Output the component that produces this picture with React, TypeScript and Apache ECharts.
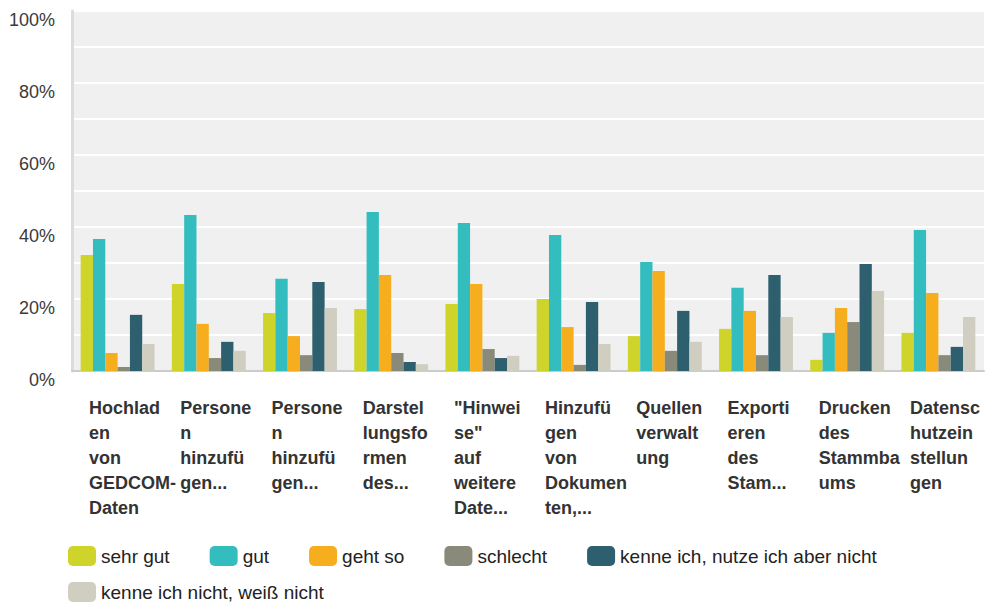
import React, { useEffect, useRef } from "react";
import * as echarts from "echarts";

const categories = [
  "Hochlad\nen\nvon\nGEDCOM-\nDaten",
  "Persone\nn\nhinzufü\ngen...",
  "Persone\nn\nhinzufü\ngen...",
  "Darstel\nlungsfo\nrmen\ndes...",
  "\"Hinwei\nse\"\nauf\nweitere\nDate...",
  "Hinzufü\ngen\nvon\nDokumen\nten,...",
  "Quellen\nverwalt\nung",
  "Exporti\neren\ndes\nStam...",
  "Drucken\ndes\nStammba\nums",
  "Datensc\nhutzein\nstellun\ngen",
];

const seriesNames = [
  "sehr gut",
  "gut",
  "geht so",
  "schlecht",
  "kenne ich, nutze ich aber nicht",
  "kenne ich nicht, weiß nicht",
];

const sehrGut = [32.2, 24.2, 16.1, 17.2, 18.6, 20.0, 9.7, 11.7, 3.1, 10.6];
const gut = [36.7, 43.3, 25.6, 44.2, 41.1, 37.8, 30.3, 23.1, 10.6, 39.2];
const gehtSo = [5.0, 13.1, 9.7, 26.7, 24.2, 12.2, 27.8, 16.7, 17.5, 21.7];
const schlecht = [1.1, 3.6, 4.4, 5.0, 6.1, 1.7, 5.6, 4.4, 13.6, 4.4];
const kenneNutzeNicht = [15.6, 8.1, 24.7, 2.5, 3.6, 19.2, 16.7, 26.7, 29.7, 6.7];
const kenneNicht = [7.5, 5.6, 17.5, 1.9, 4.2, 7.5, 8.1, 15.0, 22.2, 15.0];

const seriesValues = [sehrGut, gut, gehtSo, schlecht, kenneNutzeNicht, kenneNicht];
const colors = ["#cfd42a", "#33bdbf", "#f7ae1e", "#8a8a7a", "#2e5f6e", "#d0cec0"];

const FONT = "'Liberation Sans', Arial, Helvetica, sans-serif";

export default function App() {
  const ref = useRef<HTMLDivElement>(null);

  useEffect(() => {
    if (!ref.current) return;
    const chart = echarts.init(ref.current, null, { renderer: "svg" });
    const legendText = { fontSize: 19, color: "#222", fontFamily: FONT };
    chart.setOption({
      animation: false,
      color: colors,
      grid: {
        left: 72,
        right: 1,
        top: 11,
        bottom: 232,
        show: true,
        backgroundColor: "#f0f0f0",
        borderWidth: 0,
      },
      legend: [
        {
          data: seriesNames.slice(0, 5),
          left: 68,
          top: 546,
          padding: 0,
          itemWidth: 28,
          itemHeight: 20,
          itemGap: 40,
          icon: "roundRect",
          textStyle: legendText,
        },
        {
          data: seriesNames.slice(5),
          left: 68,
          top: 582,
          padding: 0,
          itemWidth: 28,
          itemHeight: 20,
          itemGap: 40,
          icon: "roundRect",
          textStyle: legendText,
        },
      ],
      xAxis: {
        type: "category",
        data: categories,
        axisTick: { show: false },
        axisLine: { show: true, lineStyle: { color: "#cccccc", width: 2 } },
        axisLabel: {
          interval: 0,
          margin: 24,
          width: 57,
          overflow: "none",
          align: "center",
          formatter: (v: string) =>
            v
              .split("\n")
              .map((l) => `{a|${l}}`)
              .join("\n"),
          rich: {
            a: {
              align: "left",
              fontSize: 18,
              fontWeight: "bold",
              lineHeight: 25,
              color: "#333333",
              fontFamily: FONT,
            },
          },
        },
      },
      yAxis: {
        type: "value",
        min: 0,
        max: 100,
        interval: 20,
        axisLine: { show: true, lineStyle: { color: "#dcdcdc", width: 3 } },
        axisTick: { show: false },
        minorTick: { show: false, splitNumber: 2 },
        splitLine: { show: true, lineStyle: { color: "#ffffff", width: 2 } },
        minorSplitLine: { show: true, lineStyle: { color: "#ffffff", width: 2 } },
        axisLabel: {
          formatter: "{value}%",
          fontSize: 18,
          color: "#3a3a3a",
          fontFamily: FONT,
          margin: 17,
          verticalAlign: "top",
        },
      },
      series: seriesNames.map((name, i) => ({
        name,
        type: "bar",
        data: seriesValues[i],
        barGap: "0%",
        barCategoryGap: "19%",
        itemStyle: { color: colors[i] },
      })),
    });
    return () => chart.dispose();
  }, []);

  return (
    <div
      ref={ref}
      style={{ position: "fixed", left: 0, top: 0, width: 985, height: 603, background: "#fff" }}
    />
  );
}
